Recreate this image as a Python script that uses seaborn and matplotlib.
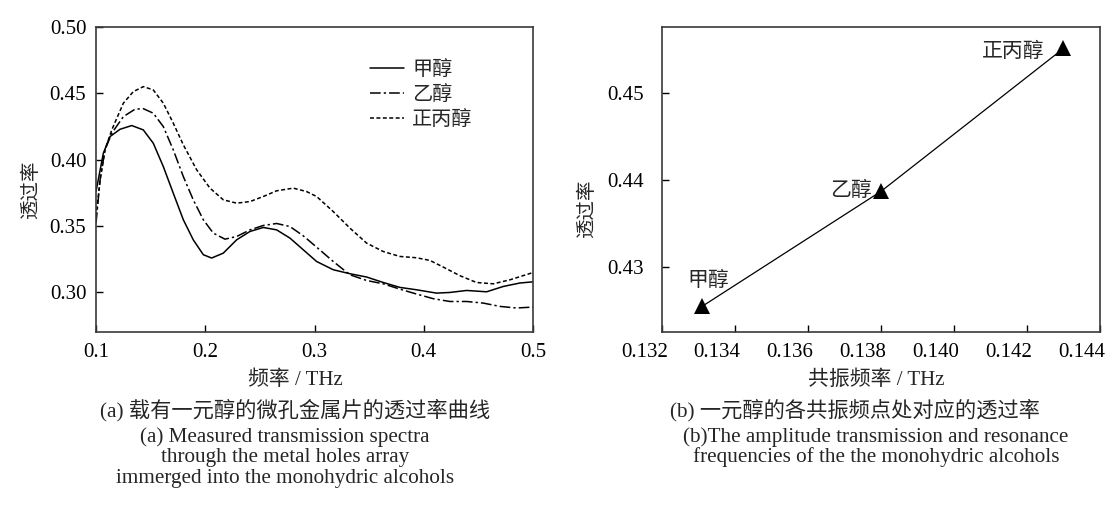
import seaborn as sns
import matplotlib.pyplot as plt
import matplotlib.transforms as mtransforms
import pandas as pd

# the three monohydric alcohols
alcohols = ['甲醇', '乙醇', '正丙醇']

# (a) transmission spectra
freq_meth = [0.100, 0.1067, 0.1128, 0.122, 0.1327, 0.1433, 0.1524, 0.1616, 0.1707,
             0.1799, 0.189, 0.1982, 0.2058, 0.2165, 0.2287, 0.2409, 0.2531, 0.2653,
             0.2775, 0.2897, 0.3019, 0.3171, 0.3324, 0.3477, 0.3629, 0.3781, 0.3934,
             0.4117, 0.4239, 0.4392, 0.4575, 0.4727, 0.4879, 0.500]
trans_meth = [0.376, 0.4048, 0.4173, 0.4228, 0.4256, 0.4223, 0.4123, 0.3947, 0.3747,
              0.3547, 0.3396, 0.3284, 0.3259, 0.3296, 0.3396, 0.3459, 0.3489, 0.3471,
              0.3409, 0.3321, 0.3233, 0.3171, 0.3141, 0.3116, 0.3075, 0.3038, 0.302,
              0.2995, 0.300, 0.3015, 0.3005, 0.3045, 0.3071, 0.308]

freq_eth = [0.100, 0.1037, 0.1082, 0.1144, 0.125, 0.1357, 0.1433, 0.1524, 0.1616,
            0.1707, 0.1799, 0.189, 0.1982, 0.2073, 0.218, 0.2287, 0.2409, 0.2531,
            0.2653, 0.2775, 0.2897, 0.3019, 0.3171, 0.3324, 0.3477, 0.3629, 0.3781,
            0.3934, 0.4087, 0.4239, 0.4392, 0.4544, 0.4697, 0.4849, 0.500]
trans_eth = [0.3522, 0.3847, 0.4073, 0.4198, 0.4323, 0.4379, 0.4383, 0.4349, 0.4248,
             0.4073, 0.3872, 0.3697, 0.3547, 0.3447, 0.3401, 0.3421, 0.3471, 0.3504,
             0.3519, 0.3496, 0.3426, 0.3341, 0.3233, 0.3133, 0.309, 0.3065, 0.3025,
             0.2988, 0.2953, 0.2932, 0.2932, 0.292, 0.2895, 0.2883, 0.289]

freq_prop = [0.100, 0.1037, 0.1082, 0.1144, 0.125, 0.1341, 0.1433, 0.1524, 0.1616,
             0.1707, 0.1799, 0.1921, 0.2043, 0.2165, 0.2287, 0.2409, 0.2531, 0.2653,
             0.2806, 0.2928, 0.3019, 0.3171, 0.3324, 0.3477, 0.3629, 0.3781, 0.3934,
             0.4056, 0.4178, 0.4331, 0.4483, 0.4636, 0.4788, 0.500]
trans_prop = [0.3571, 0.3847, 0.4073, 0.4223, 0.4424, 0.4511, 0.4549, 0.4524, 0.4424,
              0.4274, 0.4111, 0.3923, 0.3785, 0.3697, 0.3672, 0.3684, 0.3722, 0.3765,
              0.3785, 0.3759, 0.3722, 0.3609, 0.3484, 0.3371, 0.3308, 0.3271, 0.3261,
              0.3241, 0.3191, 0.3126, 0.3075, 0.3065, 0.3095, 0.315]

# (b) resonance frequency and transmission at resonance
res_freq = [0.1331, 0.1380, 0.1430]
res_trans = [0.4255, 0.4387, 0.4551]

spectra = pd.concat([
    pd.DataFrame({'freq': freq_meth, 'trans': trans_meth, 'alcohol': alcohols[0]}),
    pd.DataFrame({'freq': freq_eth, 'trans': trans_eth, 'alcohol': alcohols[1]}),
    pd.DataFrame({'freq': freq_prop, 'trans': trans_prop, 'alcohol': alcohols[2]}),
], ignore_index=True)

sns.set_style('ticks')
# serif for latin text, CJK sans for the chinese characters
plt.rcParams['font.family'] = ['Liberation Serif', 'Noto Sans CJK SC']
cjk = ['Noto Sans CJK SC', 'Liberation Serif']
mixed = ['Liberation Serif', 'Noto Sans CJK SC']

fig = plt.figure(figsize=(11.14, 5.13), dpi=100)
ax1 = fig.add_axes([0.0862, 0.3522, 0.3923, 0.5958])
ax2 = fig.add_axes([0.5945, 0.3522, 0.3929, 0.5958])

# ---- (a) spectra ----
sns.lineplot(data=spectra, x='freq', y='trans', style='alcohol', style_order=alcohols,
             dashes={'甲醇': '', '乙醇': (7, 2, 1.5, 2), '正丙醇': (2.6, 1.6)},
             color='black', linewidth=1.1, sort=False, estimator=None, ax=ax1)
ax1.set_xlim(0.1, 0.5)
ax1.set_ylim(0.27, 0.50)
ax1.set_xticks([0.1, 0.2, 0.3, 0.4, 0.5])
ax1.set_xticklabels(['0.1', '0.2', '0.3', '0.4', '0.5'])
ax1.set_yticks([0.30, 0.35, 0.40, 0.45, 0.50])
ax1.set_yticklabels(['0.30', '0.35', '0.40', '0.45', '0.50'])
ax1.set_xlabel('')
ax1.set_ylabel('')
handles, labels = ax1.get_legend_handles_labels()
ax1.legend(handles, labels, loc='upper left', bbox_to_anchor=(0.585, 0.955), frameon=False,
           handlelength=1.7, handletextpad=0.4, labelspacing=0.2,
           prop={'family': cjk, 'size': 14.5})

# ---- (b) resonance points ----
sns.lineplot(x=res_freq, y=res_trans, marker='^', markersize=11, color='black',
             linewidth=0.9, markeredgewidth=0, sort=False, ax=ax2)
ax2.set_xlim(0.132, 0.144)
ax2.set_ylim(0.4225, 0.4576)
ax2.set_xticks([0.132, 0.134, 0.136, 0.138, 0.140, 0.142, 0.144])
ax2.set_xticklabels(['0.132', '0.134', '0.136', '0.138', '0.140', '0.142', '0.144'])
ax2.set_yticks([0.43, 0.44, 0.45])
ax2.set_yticklabels(['0.43', '0.44', '0.45'])
ax2.set_xlabel('')
ax2.set_ylabel('')

label_offsets = [(4, 19, 'center'), (-7, 1, 'right'), (-14, -2, 'right')]
for name, fx, ty, (dx, dy, ha) in zip(alcohols, res_freq, res_trans, label_offsets):
    ax2.annotate(name, (fx, ty), xytext=(dx, dy), textcoords='offset points',
                 ha=ha, va='center', fontsize=15, family=cjk)

for ax in (ax1, ax2):
    ax.tick_params(direction='in', length=5, width=1, labelsize=15, colors='black')
    ax.tick_params(axis='x', pad=8)
    for side in ax.spines.values():
        side.set_color('#3a3a3a')
        side.set_linewidth(1.2)
ax1.tick_params(axis='y', pad=7)
ax2.tick_params(axis='y', pad=13)

# x tick labels of (b) sit left of their ticks in the original
# (done after tick_params, which would reset the transforms)
shift = mtransforms.ScaledTranslation(-0.18, 0, fig.dpi_scale_trans)
for lbl in ax2.get_xticklabels():
    lbl.set_transform(lbl.get_transform() + shift)

# axis titles and captions, placed in pixel terms of the figure
W, H = 1114, 513
def ftext(x, y, s, **kw):
    fig.text(x / W, 1 - y / H, s, ha='center', va='center', **kw)

ftext(31, 190, '透过率', rotation=90, fontsize=14, family=cjk)
ftext(587, 209, '透过率', rotation=90, fontsize=14, family=cjk)
ftext(295, 380, '频率 / THz', fontsize=15, family=mixed)
ftext(876, 380, '共振频率 / THz', fontsize=15, family=mixed)
ftext(295, 410, '(a) 载有一元醇的微孔金属片的透过率曲线', fontsize=15.3, family=mixed)
ftext(855, 410, '(b) 一元醇的各共振频点处对应的透过率', fontsize=15.3, family=mixed)

cap_a = ['(a) Measured transmission spectra', 'through the metal holes array',
         'immerged into the monohydric alcohols']
cap_b = ['(b)The amplitude transmission and resonance',
         'frequencies of the the monohydric alcohols']
for i, line in enumerate(cap_a):
    ftext(285, 437 + 20.5 * i, line, fontsize=15.2, family=mixed)
for i, line in enumerate(cap_b):
    ftext(876, 437 + 20.5 * i, line, fontsize=15.2, family=mixed)

fig.savefig('out.png', dpi=100, facecolor='white')
